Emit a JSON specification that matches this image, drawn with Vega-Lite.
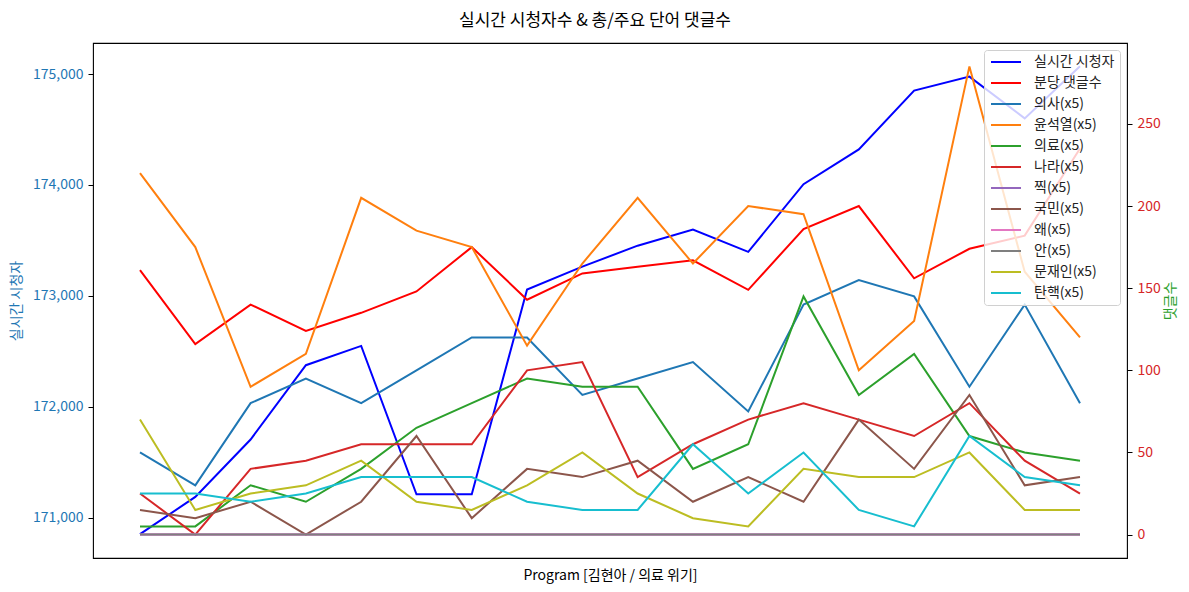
{
  "$schema": "https://vega.github.io/schema/vega-lite/v6.json",
  "width": 1034,
  "height": 515,
  "autosize": {"type": "none"},
  "padding": {"left": 93, "top": 43, "right": 62, "bottom": 34},
  "background": "white",
  "title": {"text": "실시간 시청자수 & 총/주요 단어 댓글수", "fontSize": 17, "fontWeight": "normal", "anchor": "middle", "dx": -15, "offset": 13, "color": "black"},
  "config": {
    "font": "Noto Sans CJK KR",
    "view": {"stroke": "black", "strokeWidth": 1.1},
    "axis": {"grid": false, "domain": false, "tickColor": "black", "tickSize": 5, "labelFontSize": 14, "titleFontSize": 14, "titleFontWeight": "normal"},
    "legend": {"labelFontSize": 14}
  },
  "datasets": {
    "viewers": [
      {"i": 0, "series": "실시간 시청자", "v": 170850},
      {"i": 1, "series": "실시간 시청자", "v": 171186},
      {"i": 2, "series": "실시간 시청자", "v": 171704},
      {"i": 3, "series": "실시간 시청자", "v": 172374},
      {"i": 4, "series": "실시간 시청자", "v": 172548},
      {"i": 5, "series": "실시간 시청자", "v": 171210},
      {"i": 6, "series": "실시간 시청자", "v": 171210},
      {"i": 7, "series": "실시간 시청자", "v": 173057},
      {"i": 8, "series": "실시간 시청자", "v": 173263},
      {"i": 9, "series": "실시간 시청자", "v": 173452},
      {"i": 10, "series": "실시간 시청자", "v": 173598},
      {"i": 11, "series": "실시간 시청자", "v": 173396},
      {"i": 12, "series": "실시간 시청자", "v": 174007},
      {"i": 13, "series": "실시간 시청자", "v": 174320},
      {"i": 14, "series": "실시간 시청자", "v": 174851},
      {"i": 15, "series": "실시간 시청자", "v": 174977},
      {"i": 16, "series": "실시간 시청자", "v": 174600},
      {"i": 17, "series": "실시간 시청자", "v": 175070}
    ],
    "comments": [
      {"i": 0, "series": "분당 댓글수", "v": 161}, {"i": 1, "series": "분당 댓글수", "v": 116}, {"i": 2, "series": "분당 댓글수", "v": 140}, {"i": 3, "series": "분당 댓글수", "v": 124}, {"i": 4, "series": "분당 댓글수", "v": 135}, {"i": 5, "series": "분당 댓글수", "v": 148}, {"i": 6, "series": "분당 댓글수", "v": 175}, {"i": 7, "series": "분당 댓글수", "v": 143}, {"i": 8, "series": "분당 댓글수", "v": 159}, {"i": 9, "series": "분당 댓글수", "v": 163}, {"i": 10, "series": "분당 댓글수", "v": 167}, {"i": 11, "series": "분당 댓글수", "v": 149}, {"i": 12, "series": "분당 댓글수", "v": 186}, {"i": 13, "series": "분당 댓글수", "v": 200}, {"i": 14, "series": "분당 댓글수", "v": 156}, {"i": 15, "series": "분당 댓글수", "v": 174}, {"i": 16, "series": "분당 댓글수", "v": 182}, {"i": 17, "series": "분당 댓글수", "v": 235},
      {"i": 0, "series": "의사(x5)", "v": 50}, {"i": 1, "series": "의사(x5)", "v": 30}, {"i": 2, "series": "의사(x5)", "v": 80}, {"i": 3, "series": "의사(x5)", "v": 95}, {"i": 4, "series": "의사(x5)", "v": 80}, {"i": 5, "series": "의사(x5)", "v": 100}, {"i": 6, "series": "의사(x5)", "v": 120}, {"i": 7, "series": "의사(x5)", "v": 120}, {"i": 8, "series": "의사(x5)", "v": 85}, {"i": 9, "series": "의사(x5)", "v": 95}, {"i": 10, "series": "의사(x5)", "v": 105}, {"i": 11, "series": "의사(x5)", "v": 75}, {"i": 12, "series": "의사(x5)", "v": 140}, {"i": 13, "series": "의사(x5)", "v": 155}, {"i": 14, "series": "의사(x5)", "v": 145}, {"i": 15, "series": "의사(x5)", "v": 90}, {"i": 16, "series": "의사(x5)", "v": 140}, {"i": 17, "series": "의사(x5)", "v": 80},
      {"i": 0, "series": "윤석열(x5)", "v": 220}, {"i": 1, "series": "윤석열(x5)", "v": 175}, {"i": 2, "series": "윤석열(x5)", "v": 90}, {"i": 3, "series": "윤석열(x5)", "v": 110}, {"i": 4, "series": "윤석열(x5)", "v": 205}, {"i": 5, "series": "윤석열(x5)", "v": 185}, {"i": 6, "series": "윤석열(x5)", "v": 175}, {"i": 7, "series": "윤석열(x5)", "v": 115}, {"i": 8, "series": "윤석열(x5)", "v": 165}, {"i": 9, "series": "윤석열(x5)", "v": 205}, {"i": 10, "series": "윤석열(x5)", "v": 165}, {"i": 11, "series": "윤석열(x5)", "v": 200}, {"i": 12, "series": "윤석열(x5)", "v": 195}, {"i": 13, "series": "윤석열(x5)", "v": 100}, {"i": 14, "series": "윤석열(x5)", "v": 130}, {"i": 15, "series": "윤석열(x5)", "v": 285}, {"i": 16, "series": "윤석열(x5)", "v": 160}, {"i": 17, "series": "윤석열(x5)", "v": 120},
      {"i": 0, "series": "의료(x5)", "v": 5}, {"i": 1, "series": "의료(x5)", "v": 5}, {"i": 2, "series": "의료(x5)", "v": 30}, {"i": 3, "series": "의료(x5)", "v": 20}, {"i": 4, "series": "의료(x5)", "v": 40}, {"i": 5, "series": "의료(x5)", "v": 65}, {"i": 6, "series": "의료(x5)", "v": 80}, {"i": 7, "series": "의료(x5)", "v": 95}, {"i": 8, "series": "의료(x5)", "v": 90}, {"i": 9, "series": "의료(x5)", "v": 90}, {"i": 10, "series": "의료(x5)", "v": 40}, {"i": 11, "series": "의료(x5)", "v": 55}, {"i": 12, "series": "의료(x5)", "v": 145}, {"i": 13, "series": "의료(x5)", "v": 85}, {"i": 14, "series": "의료(x5)", "v": 110}, {"i": 15, "series": "의료(x5)", "v": 60}, {"i": 16, "series": "의료(x5)", "v": 50}, {"i": 17, "series": "의료(x5)", "v": 45},
      {"i": 0, "series": "나라(x5)", "v": 25}, {"i": 1, "series": "나라(x5)", "v": 0}, {"i": 2, "series": "나라(x5)", "v": 40}, {"i": 3, "series": "나라(x5)", "v": 45}, {"i": 4, "series": "나라(x5)", "v": 55}, {"i": 5, "series": "나라(x5)", "v": 55}, {"i": 6, "series": "나라(x5)", "v": 55}, {"i": 7, "series": "나라(x5)", "v": 100}, {"i": 8, "series": "나라(x5)", "v": 105}, {"i": 9, "series": "나라(x5)", "v": 35}, {"i": 10, "series": "나라(x5)", "v": 55}, {"i": 11, "series": "나라(x5)", "v": 70}, {"i": 12, "series": "나라(x5)", "v": 80}, {"i": 13, "series": "나라(x5)", "v": 70}, {"i": 14, "series": "나라(x5)", "v": 60}, {"i": 15, "series": "나라(x5)", "v": 80}, {"i": 16, "series": "나라(x5)", "v": 45}, {"i": 17, "series": "나라(x5)", "v": 25},
      {"i": 0, "series": "찍(x5)", "v": 0}, {"i": 1, "series": "찍(x5)", "v": 0}, {"i": 2, "series": "찍(x5)", "v": 0}, {"i": 3, "series": "찍(x5)", "v": 0}, {"i": 4, "series": "찍(x5)", "v": 0}, {"i": 5, "series": "찍(x5)", "v": 0}, {"i": 6, "series": "찍(x5)", "v": 0}, {"i": 7, "series": "찍(x5)", "v": 0}, {"i": 8, "series": "찍(x5)", "v": 0}, {"i": 9, "series": "찍(x5)", "v": 0}, {"i": 10, "series": "찍(x5)", "v": 0}, {"i": 11, "series": "찍(x5)", "v": 0}, {"i": 12, "series": "찍(x5)", "v": 0}, {"i": 13, "series": "찍(x5)", "v": 0}, {"i": 14, "series": "찍(x5)", "v": 0}, {"i": 15, "series": "찍(x5)", "v": 0}, {"i": 16, "series": "찍(x5)", "v": 0}, {"i": 17, "series": "찍(x5)", "v": 0},
      {"i": 0, "series": "국민(x5)", "v": 15}, {"i": 1, "series": "국민(x5)", "v": 10}, {"i": 2, "series": "국민(x5)", "v": 20}, {"i": 3, "series": "국민(x5)", "v": 0}, {"i": 4, "series": "국민(x5)", "v": 20}, {"i": 5, "series": "국민(x5)", "v": 60}, {"i": 6, "series": "국민(x5)", "v": 10}, {"i": 7, "series": "국민(x5)", "v": 40}, {"i": 8, "series": "국민(x5)", "v": 35}, {"i": 9, "series": "국민(x5)", "v": 45}, {"i": 10, "series": "국민(x5)", "v": 20}, {"i": 11, "series": "국민(x5)", "v": 35}, {"i": 12, "series": "국민(x5)", "v": 20}, {"i": 13, "series": "국민(x5)", "v": 70}, {"i": 14, "series": "국민(x5)", "v": 40}, {"i": 15, "series": "국민(x5)", "v": 85}, {"i": 16, "series": "국민(x5)", "v": 30}, {"i": 17, "series": "국민(x5)", "v": 35},
      {"i": 0, "series": "왜(x5)", "v": 0}, {"i": 1, "series": "왜(x5)", "v": 0}, {"i": 2, "series": "왜(x5)", "v": 0}, {"i": 3, "series": "왜(x5)", "v": 0}, {"i": 4, "series": "왜(x5)", "v": 0}, {"i": 5, "series": "왜(x5)", "v": 0}, {"i": 6, "series": "왜(x5)", "v": 0}, {"i": 7, "series": "왜(x5)", "v": 0}, {"i": 8, "series": "왜(x5)", "v": 0}, {"i": 9, "series": "왜(x5)", "v": 0}, {"i": 10, "series": "왜(x5)", "v": 0}, {"i": 11, "series": "왜(x5)", "v": 0}, {"i": 12, "series": "왜(x5)", "v": 0}, {"i": 13, "series": "왜(x5)", "v": 0}, {"i": 14, "series": "왜(x5)", "v": 0}, {"i": 15, "series": "왜(x5)", "v": 0}, {"i": 16, "series": "왜(x5)", "v": 0}, {"i": 17, "series": "왜(x5)", "v": 0},
      {"i": 0, "series": "안(x5)", "v": 0}, {"i": 1, "series": "안(x5)", "v": 0}, {"i": 2, "series": "안(x5)", "v": 0}, {"i": 3, "series": "안(x5)", "v": 0}, {"i": 4, "series": "안(x5)", "v": 0}, {"i": 5, "series": "안(x5)", "v": 0}, {"i": 6, "series": "안(x5)", "v": 0}, {"i": 7, "series": "안(x5)", "v": 0}, {"i": 8, "series": "안(x5)", "v": 0}, {"i": 9, "series": "안(x5)", "v": 0}, {"i": 10, "series": "안(x5)", "v": 0}, {"i": 11, "series": "안(x5)", "v": 0}, {"i": 12, "series": "안(x5)", "v": 0}, {"i": 13, "series": "안(x5)", "v": 0}, {"i": 14, "series": "안(x5)", "v": 0}, {"i": 15, "series": "안(x5)", "v": 0}, {"i": 16, "series": "안(x5)", "v": 0}, {"i": 17, "series": "안(x5)", "v": 0},
      {"i": 0, "series": "문재인(x5)", "v": 70}, {"i": 1, "series": "문재인(x5)", "v": 15}, {"i": 2, "series": "문재인(x5)", "v": 25}, {"i": 3, "series": "문재인(x5)", "v": 30}, {"i": 4, "series": "문재인(x5)", "v": 45}, {"i": 5, "series": "문재인(x5)", "v": 20}, {"i": 6, "series": "문재인(x5)", "v": 15}, {"i": 7, "series": "문재인(x5)", "v": 30}, {"i": 8, "series": "문재인(x5)", "v": 50}, {"i": 9, "series": "문재인(x5)", "v": 25}, {"i": 10, "series": "문재인(x5)", "v": 10}, {"i": 11, "series": "문재인(x5)", "v": 5}, {"i": 12, "series": "문재인(x5)", "v": 40}, {"i": 13, "series": "문재인(x5)", "v": 35}, {"i": 14, "series": "문재인(x5)", "v": 35}, {"i": 15, "series": "문재인(x5)", "v": 50}, {"i": 16, "series": "문재인(x5)", "v": 15}, {"i": 17, "series": "문재인(x5)", "v": 15},
      {"i": 0, "series": "탄핵(x5)", "v": 25}, {"i": 1, "series": "탄핵(x5)", "v": 25}, {"i": 2, "series": "탄핵(x5)", "v": 20}, {"i": 3, "series": "탄핵(x5)", "v": 25}, {"i": 4, "series": "탄핵(x5)", "v": 35}, {"i": 5, "series": "탄핵(x5)", "v": 35}, {"i": 6, "series": "탄핵(x5)", "v": 35}, {"i": 7, "series": "탄핵(x5)", "v": 20}, {"i": 8, "series": "탄핵(x5)", "v": 15}, {"i": 9, "series": "탄핵(x5)", "v": 15}, {"i": 10, "series": "탄핵(x5)", "v": 55}, {"i": 11, "series": "탄핵(x5)", "v": 25}, {"i": 12, "series": "탄핵(x5)", "v": 50}, {"i": 13, "series": "탄핵(x5)", "v": 15}, {"i": 14, "series": "탄핵(x5)", "v": 5}, {"i": 15, "series": "탄핵(x5)", "v": 60}, {"i": 16, "series": "탄핵(x5)", "v": 35}, {"i": 17, "series": "탄핵(x5)", "v": 30}
    ]
  },
  "layer": [
    {
      "data": {"name": "viewers"},
      "mark": {"type": "line", "strokeWidth": 2},
      "encoding": {
        "x": {"field": "i", "type": "quantitative", "scale": {"domain": [-0.85, 17.85], "nice": false, "zero": false}, "axis": {"labels": false, "ticks": false, "title": "Program [김현아 / 의료 위기]", "titlePadding": 10, "titleColor": "black"}},
        "y": {"field": "v", "type": "quantitative", "scale": {"domain": [170635, 175280], "nice": false, "zero": false}, "axis": {"orient": "left", "values": [171000, 172000, 173000, 174000, 175000], "format": ",.0f", "labelColor": "#1f77b4", "title": "실시간 시청자", "titleColor": "#1f77b4", "labelPadding": 5, "titlePadding": 9}},
        "color": {"field": "series", "type": "nominal",
          "scale": {"domain": ["실시간 시청자", "분당 댓글수", "의사(x5)", "윤석열(x5)", "의료(x5)", "나라(x5)", "찍(x5)", "국민(x5)", "왜(x5)", "안(x5)", "문재인(x5)", "탄핵(x5)"],
                    "range": ["#0000ff", "#ff0000", "#1f77b4", "#ff7f0e", "#2ca02c", "#d62728", "#9467bd", "#8c564b", "#e377c2", "#7f7f7f", "#bcbd22", "#17becf"]},
          "legend": {"orient": "top-right", "offset": 7, "title": null, "symbolType": "M-1,0H5", "symbolSize": 100, "symbolStrokeWidth": 2, "labelOffset": 31, "rowPadding": 7, "padding": 5, "fillColor": "rgba(255,255,255,0.8)", "strokeColor": "#d0d0d0", "cornerRadius": 3, "labelColor": "#222222"}}
      }
    },
    {
      "data": {"name": "comments"},
      "mark": {"type": "line", "strokeWidth": 2},
      "encoding": {
        "x": {"field": "i", "type": "quantitative", "scale": {"domain": [-0.85, 17.85], "nice": false, "zero": false}, "axis": {"labels": false, "ticks": false, "title": "Program [김현아 / 의료 위기]", "titlePadding": 10, "titleColor": "black"}},
        "y": {"field": "v", "type": "quantitative", "scale": {"domain": [-14.25, 299.25], "nice": false, "zero": false}, "axis": {"orient": "right", "values": [0, 50, 100, 150, 200, 250], "labelColor": "#d62728", "title": "댓글수", "titleColor": "#2ca02c", "titleAngle": 270, "titleBaseline": "top", "labelPadding": 5, "titlePadding": 3}},
        "color": {"field": "series", "type": "nominal",
          "scale": {"domain": ["실시간 시청자", "분당 댓글수", "의사(x5)", "윤석열(x5)", "의료(x5)", "나라(x5)", "찍(x5)", "국민(x5)", "왜(x5)", "안(x5)", "문재인(x5)", "탄핵(x5)"],
                    "range": ["#0000ff", "#ff0000", "#1f77b4", "#ff7f0e", "#2ca02c", "#d62728", "#9467bd", "#8c564b", "#e377c2", "#7f7f7f", "#bcbd22", "#17becf"]},
          "legend": {"orient": "top-right", "offset": 7, "title": null, "symbolType": "M-1,0H5", "symbolSize": 100, "symbolStrokeWidth": 2, "labelOffset": 31, "rowPadding": 7, "padding": 5, "fillColor": "rgba(255,255,255,0.8)", "strokeColor": "#d0d0d0", "cornerRadius": 3, "labelColor": "#222222"}}
      }
    }
  ],
  "resolve": {"scale": {"y": "independent"}}
}
